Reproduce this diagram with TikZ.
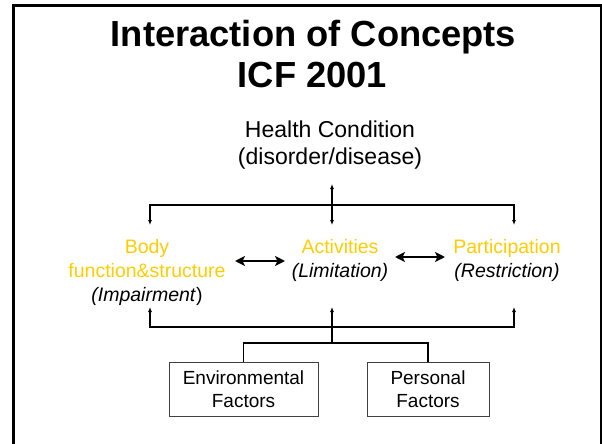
\documentclass[tikz,border=0pt]{standalone}
\usepackage{fontspec}
\setmainfont{Liberation Sans}
\usetikzlibrary{arrows.meta}
\definecolor{icfyellow}{RGB}{255,204,0}

\begin{document}
\begin{tikzpicture}[x=1pt,y=-1pt]
\tikzstyle{every node}+=[inner sep=0pt]
\tikzset{
  tip/.style={line width=1.4pt,-{Latex[length=5pt,width=4pt]}},
  dbl/.style={line width=2pt,{Stealth[length=10pt,width=10pt,inset=2.5pt]}-{Stealth[length=10pt,width=10pt,inset=2.5pt]}},
  lbl/.style={align=center,font=\fontsize{19.5}{24}\selectfont},
  factor/.style={draw=black!75,line width=0.9pt,align=center,font=\fontsize{19}{23}\selectfont}
}
\useasboundingbox (0,0) rectangle (602,444);
\clip (0,0) rectangle (602,444);
\draw [line width=3pt] (13,460) -- (13,6) -- (601,6) -- (601,460);
% title
\node (title1) at (313.5,37.5) {\fontsize{36.3}{40}\selectfont\bfseries Interaction of Concepts};
\node (title2) at (312.5,75.5) {\fontsize{36.3}{40}\selectfont\bfseries ICF 2001};
% concepts
\node [align=center,font=\fontsize{23}{27}\selectfont] (hc) at (330,145.5) {Health Condition\\(disorder/disease)};
\node [lbl] (body) at (147,272) {\textcolor{icfyellow}{Body}\\\textcolor{icfyellow}{function\&structure}\\\textit{(Impairment})};
\node [lbl] (act) at (340,260) {\textcolor{icfyellow}{Activities}\\\textit{(Limitation)}};
\node [lbl] (part) at (507,260) {\textcolor{icfyellow}{Participation}\\\textit{(Restriction)}};
\node [factor,minimum width=149pt,minimum height=54pt] (env) at (243.5,389) {Environmental\\Factors};
\node [factor,minimum width=122pt,minimum height=54pt] (pers) at (428,389) {Personal\\Factors};
% junctions
\coordinate (hcS) at (332,184);
\coordinate (topMid) at (332,205);
\coordinate (bodyN) at (150,225);
\coordinate (actN) at (332,225);
\coordinate (partN) at (514,225);
\coordinate (bodyS) at (150,307);
\coordinate (actS) at (332,307);
\coordinate (partS) at (514,307);
\coordinate (lowMid) at (332,327);
\coordinate (facMid) at (332,343);
\coordinate (bodyE) at (235,261);
\coordinate (actW) at (285,261);
\coordinate (actE) at (395,257);
\coordinate (partW) at (445,257);
% connectors
\draw [tip] (topMid) -- (hcS);
\draw [tip] (topMid) -- (actN);
\draw [tip] (topMid) -| (bodyN);
\draw [tip] (topMid) -| (partN);
\draw [dbl] (bodyE) -- (actW);
\draw [dbl] (actE) -- (partW);
\draw [tip] (lowMid) -| (bodyS);
\draw [tip] (lowMid) -| (partS);
\draw [tip] (facMid) -- (actS);
\draw [line width=1.4pt] (env.north) |- (facMid) -| (pers.north);
\end{tikzpicture}
\end{document}
